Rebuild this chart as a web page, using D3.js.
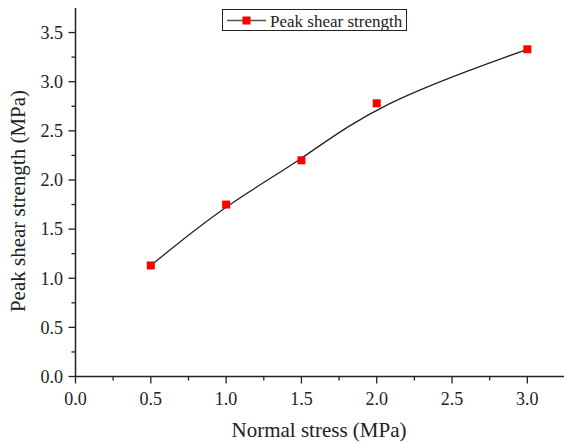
<!DOCTYPE html>
<html>
<head>
<meta charset="utf-8">
<script src="https://cdn.jsdelivr.net/npm/d3@7/dist/d3.min.js"></script>
<style>
  html, body { margin: 0; padding: 0; background: #fff; }
  svg { display: block; }
  text { font-family: "Liberation Serif", "Times New Roman", serif; fill: #222; }
</style>
</head>
<body>
<svg id="chart" width="564" height="443"></svg>
<script>
// Normal stress (MPa) and measured peak shear strength (MPa)
const normalStress = [0.5, 1.0, 1.5, 2.0, 3.0];
const peakShear = [1.13, 1.75, 2.20, 2.78, 3.33];
const xTicks = [0, 0.5, 1.0, 1.5, 2.0, 2.5, 3.0];
const yTicks = [0, 0.5, 1.0, 1.5, 2.0, 2.5, 3.0, 3.5];
const seriesName = "Peak shear strength";

const svg = d3.select("#chart");
const plotLeft = 75.5, plotRight = 565, plotTop = 8, plotBottom = 376.5;

const x = d3.scaleLinear().domain([0, 3.25]).range([plotLeft, plotRight]);
const y = d3.scaleLinear().domain([0, 3.75]).range([plotBottom, plotTop]);

const axisColor = "#222";

// minor ticks (between major ones)
const xMinor = d3.range(0.25, 3.25, 0.5);
const yMinor = d3.range(0.25, 3.75, 0.5);

const gx = svg.append("g").attr("transform", `translate(0,${plotBottom})`);
gx.append("line").attr("x1", plotLeft).attr("x2", plotRight).attr("stroke", axisColor).attr("stroke-width", 1.5);
gx.selectAll(".maj").data(xTicks).join("line").attr("class", "maj")
  .attr("x1", d => x(d)).attr("x2", d => x(d)).attr("y1", 0).attr("y2", 7)
  .attr("stroke", axisColor).attr("stroke-width", 1.3);
gx.selectAll(".min").data(xMinor).join("line").attr("class", "min")
  .attr("x1", d => x(d)).attr("x2", d => x(d)).attr("y1", 0).attr("y2", 4)
  .attr("stroke", axisColor).attr("stroke-width", 1.3);
gx.selectAll("text").data(xTicks).join("text")
  .attr("x", d => x(d)).attr("y", 28)
  .attr("text-anchor", "middle").attr("font-size", 18)
  .text(d => d.toFixed(1));

const gy = svg.append("g").attr("transform", `translate(${plotLeft},0)`);
gy.append("line").attr("y1", plotTop).attr("y2", plotBottom).attr("stroke", axisColor).attr("stroke-width", 1.5);
gy.selectAll(".maj").data(yTicks).join("line").attr("class", "maj")
  .attr("y1", d => y(d)).attr("y2", d => y(d)).attr("x1", 0).attr("x2", -7)
  .attr("stroke", axisColor).attr("stroke-width", 1.3);
gy.selectAll(".min").data(yMinor).join("line").attr("class", "min")
  .attr("y1", d => y(d)).attr("y2", d => y(d)).attr("x1", 0).attr("x2", -4)
  .attr("stroke", axisColor).attr("stroke-width", 1.3);
gy.selectAll("text").data(yTicks).join("text")
  .attr("x", -12.5).attr("y", d => y(d)).attr("dy", "0.35em")
  .attr("text-anchor", "end").attr("font-size", 18)
  .text(d => d.toFixed(1));

// axis titles
svg.append("text").attr("x", 319).attr("y", 437)
  .attr("text-anchor", "middle").attr("font-size", 21)
  .text("Normal stress (MPa)");
svg.append("text")
  .attr("transform", "translate(25,201) rotate(-90)")
  .attr("text-anchor", "middle").attr("font-size", 21)
  .text("Peak shear strength (MPa)");

// smoothed curve through the measurements
const pts = normalStress.map((d, i) => [d, peakShear[i]]);
svg.append("path")
  .attr("d", d3.line().x(d => x(d[0])).y(d => y(d[1])).curve(d3.curveBasis)(pts))
  .attr("fill", "none").attr("stroke", "#222").attr("stroke-width", 1.3);

// square markers
const ms = 8;
svg.selectAll(".pt").data(pts).join("rect").attr("class", "pt")
  .attr("x", d => x(d[0]) - ms / 2).attr("y", d => y(d[1]) - ms / 2)
  .attr("width", ms).attr("height", ms).attr("fill", "#ff0000");

// legend
const lg = svg.append("g");
lg.append("rect").attr("x", 222.5).attr("y", 9.5).attr("width", 184).attr("height", 21)
  .attr("fill", "#fff").attr("stroke", "#222").attr("stroke-width", 1);
lg.append("line").attr("x1", 227).attr("x2", 266).attr("y1", 20.5).attr("y2", 20.5)
  .attr("stroke", "#555").attr("stroke-width", 1.3);
lg.append("rect").attr("x", 246.5 - ms / 2).attr("y", 20.5 - ms / 2).attr("width", ms).attr("height", ms)
  .attr("fill", "#ff0000");
lg.append("text").attr("x", 270).attr("y", 26.5).attr("font-size", 17).text(seriesName);
</script>
</body>
</html>
